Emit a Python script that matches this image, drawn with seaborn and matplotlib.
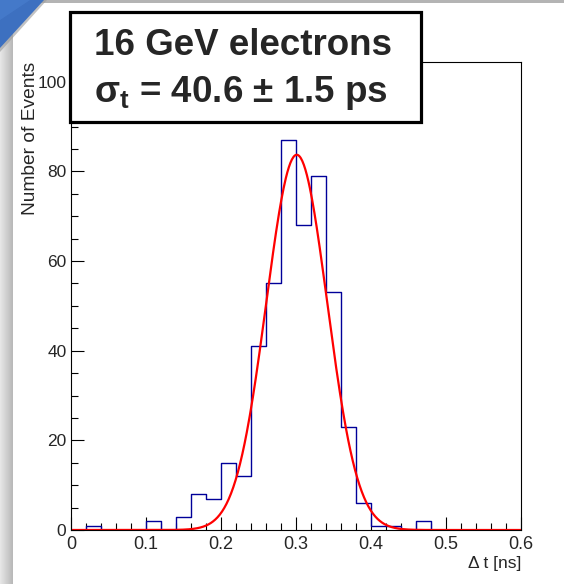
import numpy as np
import pandas as pd
import matplotlib
matplotlib.use("Agg")
import matplotlib.pyplot as plt
from matplotlib.patches import Rectangle, Polygon
from matplotlib.ticker import MultipleLocator
import seaborn as sns

# ---- data ----
bin_edges = np.linspace(0.0, 0.6, 31)          # 30 bins, width 0.02 ns
counts = [0, 1, 0, 0, 0, 2, 0, 3, 8, 7,
          15, 12, 41, 55, 87, 68, 79, 53, 23, 6,
          1, 1, 0, 2, 0, 0, 0, 0, 0, 0]
fit_amplitude = 83.7      # events
fit_mean = 0.301          # ns
fit_sigma = 0.0406        # ns
x_label = "Δ t [ns]"
y_label = "Number of Events"
box_line1 = "16 GeV electrons"
box_line2 = r"$\sigma_t$ = 40.6 ± 1.5 ps"

sns.set_style("white")
plt.rcParams["font.family"] = ["Liberation Sans", "DejaVu Sans"]
plt.rcParams["mathtext.fontset"] = "custom"
plt.rcParams["mathtext.rm"] = "Liberation Sans:bold"
plt.rcParams["mathtext.bf"] = "Liberation Sans:bold"
plt.rcParams["mathtext.it"] = "Liberation Sans:bold"
plt.rcParams["mathtext.default"] = "bf"

W, H = 564, 584
fig = plt.figure(figsize=(W / 100, H / 100), dpi=100)
fig.patch.set_facecolor("white")

# ---- slide-like background decorations ----
bg = fig.add_axes([0, 0, 1, 1], zorder=-5)
bg.axis("off")
grad = np.linspace(0.91, 0.72, 64)[None, :]
bg.imshow(np.dstack([grad, grad, grad]), extent=(0, 13, H, 0), aspect="auto")
bg.add_patch(Rectangle((0, 0), W, 3, color="#b4b4b4", lw=0))
bg.add_patch(Polygon([(0, 0), (47, 0), (0, 52)], closed=True, color="#9a9a9a", lw=0, alpha=0.6))
bg.add_patch(Polygon([(0, 0), (44, 0), (0, 48)], closed=True, color="#3d70c0", lw=0))
bg.add_patch(Polygon([(0, 0), (30, 0), (0, 20)], closed=True, color="#4a80d0", lw=0, alpha=0.6))
bg.set_xlim(0, W)
bg.set_ylim(H, 0)

# ---- main axes ----
ax = fig.add_axes([71 / W, 1 - 530 / H, 450 / W, 468 / H])
ax.set_facecolor("white")

centers = 0.5 * (bin_edges[:-1] + bin_edges[1:])
hist_df = pd.DataFrame({"dt": centers, "n": counts})
sns.histplot(data=hist_df, x="dt", weights="n", bins=list(bin_edges), element="step",
             fill=False, color="#000099", linewidth=1.0, ax=ax)

xs = np.linspace(0.0, 0.6, 600)
ys = fit_amplitude * np.exp(-0.5 * ((xs - fit_mean) / fit_sigma) ** 2)
sns.lineplot(x=xs, y=ys, color="red", linewidth=1.6, ax=ax)

ax.set_xlim(0, 0.6)
ax.set_ylim(0, 104.4)
ax.xaxis.set_major_locator(MultipleLocator(0.1))
ax.xaxis.set_minor_locator(MultipleLocator(0.02))
ax.yaxis.set_major_locator(MultipleLocator(20))
ax.yaxis.set_minor_locator(MultipleLocator(5))
ax.set_xticks(np.arange(0, 0.61, 0.1))
ax.set_xticklabels(["0", "0.1", "0.2", "0.3", "0.4", "0.5", "0.6"])
ax.set_yticks(np.arange(0, 101, 20))
ax.set_yticklabels(["0", "20", "40", "60", "80", "100"])

ax.tick_params(which="both", direction="in", top=False, right=False,
               bottom=True, left=True, color="black", width=0.8)
ax.tick_params(which="major", length=9.4)
ax.tick_params(which="minor", length=4.8)
ax.tick_params(axis="x", which="major", labelsize=13, pad=4.5)
ax.tick_params(axis="y", which="major", labelsize=12.5, pad=3.3)

for sp in ax.spines.values():
    sp.set_color("black")
    sp.set_linewidth(0.8)
    sp.set_visible(True)

ax.set_xlabel(x_label, fontsize=12.5, ha="right", va="top")
ax.xaxis.set_label_coords(1.0, -0.056)
ax.set_ylabel(y_label, fontsize=13.8, ha="right", va="bottom")
ax.yaxis.set_label_coords(-0.0705, 1.0)

# ---- legend-like text box ----
box = Rectangle((70 / W, 1 - 122 / H), 351 / W, 110 / H, transform=fig.transFigure,
                facecolor="white", edgecolor="black", linewidth=2.3, zorder=10)
fig.add_artist(box)
fig.text(94 / W, 1 - 55 / H, box_line1, fontsize=26.5, fontweight="bold",
         ha="left", va="baseline", zorder=11)
fig.text(94 / W, 1 - 102 / H, box_line2, fontsize=26.5, fontweight="bold",
         ha="left", va="baseline", zorder=11)

fig.savefig("out.png", dpi=100)
